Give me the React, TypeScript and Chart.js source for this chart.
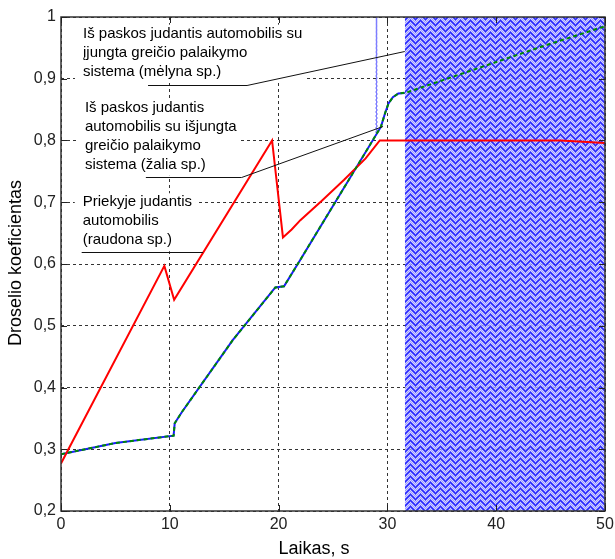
import React, { useEffect, useRef } from 'react';
import { Chart, registerables } from 'chart.js';
Chart.register(...registerables);

// ---- data (time in s, throttle coefficient) ----
const redTime = [0, 9.5, 10.4, 19.4, 20.4, 21.2, 22.0, 24.0, 26.0, 28.0, 29.3, 45.9, 50];
const redThrottle = [0.277, 0.597, 0.542, 0.8, 0.643, 0.656, 0.671, 0.703, 0.736, 0.771, 0.8, 0.8, 0.796];

const greenTime = [0, 5, 10.35, 10.45, 11.1, 15.8, 19.7, 20.5, 22.0, 29.4, 29.8, 30.1, 30.5, 31.0, 31.8, 44.0, 50];
const greenThrottle = [0.292, 0.31, 0.322, 0.342, 0.36, 0.477, 0.562, 0.564, 0.607, 0.822, 0.845, 0.86, 0.87, 0.876, 0.878, 0.951, 0.985];

const blueTime = [0, 5, 10.35, 10.45, 11.1, 15.8, 19.7, 20.5, 22.0, 29.4, 29.8, 30.1, 30.5, 31.0, 31.6];
const blueThrottle = [0.292, 0.31, 0.322, 0.342, 0.36, 0.477, 0.562, 0.564, 0.607, 0.822, 0.845, 0.86, 0.87, 0.876, 0.877];

const blueSpikeTime = [28.97, 29.0, 29.03];
const blueSpikeThrottle = [0.812, 1.0, 0.812];

const blueBandTime = [31.6, 50];
const blueBandTop = [1, 1];

const xTickLabels = ['0', '10', '20', '30', '40', '50'];
const yTickLabels = ['0,2', '0,3', '0,4', '0,5', '0,6', '0,7', '0,8', '0,9', '1'];
const xTitle = 'Laikas, s';
const yTitle = 'Droselio koeficientas';

const blueNoteLines = ['Iš paskos judantis automobilis su', 'įjungta greičio palaikymo', 'sistema (mėlyna sp.)'];
const greenNoteLines = ['Iš paskos judantis', 'automobilis su išjungta', 'greičio palaikymo', 'sistema (žalia sp.)'];
const redNoteLines = ['Priekyje judantis', 'automobilis', '(raudona sp.)'];

// ---- annotation placement (data coordinates) ----
const notes = [
  { lines: blueNoteLines, x: 2.02, y: 0.973, leader: [[8.0, 0.89], [17.1, 0.89], [31.6, 0.945]] },
  { lines: greenNoteLines, x: 2.2, y: 0.853, leader: [[7.8, 0.741], [16.6, 0.741], [29.6, 0.824]] },
  { lines: redNoteLines, x: 2.0, y: 0.7, leader: [[1.9, 0.619], [13.05, 0.619]] },
];

const FONT = '"Liberation Sans", Arial, Helvetica, sans-serif';

function makePattern(): CanvasPattern | string {
  const W = 10, H = 12;
  const c = document.createElement('canvas');
  c.width = W;
  c.height = H;
  const g = c.getContext('2d');
  if (!g) return 'rgba(100,100,250,0.85)';
  const img = g.createImageData(W, H);
  for (let r = 0; r < H; r++) {
    for (let col = 0; col < W; col++) {
      const k = (r + Math.abs(col - W / 2)) % 6;
      const checker = (r + col) % 2 === 0;
      const i = (r * W + col) * 4;
      let rgb: number[];
      let a: number;
      if (k < 3) { rgb = checker ? [25, 25, 255] : [80, 80, 255]; a = 240; }
      else { rgb = checker ? [200, 200, 255] : [140, 140, 255]; a = 215; }
      img.data[i] = rgb[0]; img.data[i + 1] = rgb[1]; img.data[i + 2] = rgb[2]; img.data[i + 3] = a;
    }
  }
  g.putImageData(img, 0, 0);
  const p = g.createPattern(c, 'repeat');
  return p || 'rgba(100,100,250,0.85)';
}

const pts = (xs: number[], ys: number[]) => xs.map((x, i) => ({ x, y: ys[i] }));

const decorPlugin = {
  id: 'decor',
  beforeDatasetsDraw(chart: any) {
    const { ctx, scales } = chart;
    const xs = scales.x, ys = scales.y;
    ctx.save();
    ctx.font = `15px ${FONT}`;
    notes.forEach((n) => {
      const x0 = xs.getPixelForValue(n.x);
      const y0 = ys.getPixelForValue(n.y);
      const w = Math.max(...n.lines.map((l) => ctx.measureText(l).width));
      const h = (n.lines.length - 1) * 19;
      ctx.fillStyle = '#ffffff';
      ctx.fillRect(x0 - 8, y0 - 9, w + 12, h + 20);
    });
    ctx.restore();
  },
  afterDatasetsDraw(chart: any) {
    const { ctx, scales, chartArea } = chart;
    const xs = scales.x, ys = scales.y;
    ctx.save();
    ctx.strokeStyle = '#333';
    ctx.lineWidth = 1.5;
    ctx.strokeRect(chartArea.left, chartArea.top, chartArea.right - chartArea.left, chartArea.bottom - chartArea.top);
    ctx.lineWidth = 1;
    ctx.strokeStyle = '#222';
    ctx.beginPath();
    xs.ticks.forEach((t: any) => {
      const px = Math.round(xs.getPixelForValue(t.value)) + 0.5;
      ctx.moveTo(px, chartArea.bottom); ctx.lineTo(px, chartArea.bottom - 6);
      ctx.moveTo(px, chartArea.top); ctx.lineTo(px, chartArea.top + 6);
    });
    ys.ticks.forEach((t: any) => {
      const py = Math.round(ys.getPixelForValue(t.value)) + 0.5;
      ctx.moveTo(chartArea.left, py); ctx.lineTo(chartArea.left + 6, py);
      ctx.moveTo(chartArea.right, py); ctx.lineTo(chartArea.right - 6, py);
    });
    ctx.stroke();
    ctx.font = `15px ${FONT}`;
    ctx.fillStyle = '#000';
    ctx.textBaseline = 'middle';
    ctx.textAlign = 'left';
    notes.forEach((n) => {
      const x0 = xs.getPixelForValue(n.x);
      const y0 = ys.getPixelForValue(n.y);
      n.lines.forEach((l, i) => ctx.fillText(l, x0, y0 + i * 19));
      ctx.beginPath();
      ctx.strokeStyle = '#111';
      ctx.lineWidth = 1;
      n.leader.forEach((p, i) => {
        const px = xs.getPixelForValue(p[0]);
        const py = Math.round(ys.getPixelForValue(p[1])) + 0.5;
        if (i === 0) ctx.moveTo(px, py); else ctx.lineTo(px, py);
      });
      ctx.stroke();
    });
    ctx.restore();
  },
  afterDraw(chart: any) {
    const { ctx, chartArea } = chart;
    ctx.save();
    ctx.fillStyle = '#000';
    ctx.font = `18px ${FONT}`;
    ctx.textAlign = 'center';
    ctx.textBaseline = 'middle';
    ctx.fillText(xTitle, 314, 549);
    ctx.translate(16, (chartArea.top + chartArea.bottom) / 2 - 1);
    ctx.rotate(-Math.PI / 2);
    ctx.fillText(yTitle, 0, 0);
    ctx.restore();
  },
};

export default function App() {
  const ref = useRef<HTMLCanvasElement | null>(null);
  useEffect(() => {
    if (!ref.current) return;
    const pattern = makePattern();
    const chart = new Chart(ref.current, {
      type: 'line',
      data: {
        datasets: [
          {
            label: 'green',
            data: pts(greenTime, greenThrottle),
            borderColor: '#008a00',
            borderWidth: 2,
            borderDash: [4, 3],
            pointRadius: 0,
            fill: false,
            order: 1,
          },
          {
            label: 'red',
            data: pts(redTime, redThrottle),
            borderColor: '#ff0000',
            borderWidth: 2,
            pointRadius: 0,
            fill: false,
            order: 2,
          },
          {
            label: 'blue',
            data: pts(blueTime, blueThrottle),
            borderColor: '#1a1aff',
            borderWidth: 2,
            pointRadius: 0,
            fill: false,
            order: 3,
          },
          {
            label: 'blue spike',
            data: pts(blueSpikeTime, blueSpikeThrottle),
            borderColor: 'rgba(70,70,255,0.7)',
            borderWidth: 1.5,
            borderDash: [2, 2],
            pointRadius: 0,
            fill: false,
            order: 3,
          },
          {
            label: 'blue band',
            data: pts(blueBandTime, blueBandTop),
            borderColor: 'rgba(0,0,0,0)',
            borderWidth: 0,
            backgroundColor: pattern as any,
            pointRadius: 0,
            fill: 'start',
            order: 4,
          },
        ],
      },
      options: {
        responsive: false,
        animation: false,
        events: [],
        layout: { padding: { top: 17, right: 10, left: 0, bottom: 0 } },
        plugins: { legend: { display: false }, tooltip: { enabled: false } },
        scales: {
          x: {
            type: 'linear',
            min: 0,
            max: 50,
            afterFit: (s: any) => { s.height = 48; s.paddingLeft = 0; s.paddingRight = 0; },
            ticks: {
              stepSize: 10,
              padding: 4,
              color: '#222',
              font: { family: FONT, size: 16 },
              callback: (_v: any, i: number) => xTickLabels[i],
              maxRotation: 0,
            },
            grid: { color: '#333', lineWidth: 1, drawTicks: false },
            border: { display: false, dash: [3, 3] },
          },
          y: {
            type: 'linear',
            min: 0.2,
            max: 1,
            afterFit: (s: any) => { s.width = 61; s.paddingTop = 0; s.paddingBottom = 0; },
            ticks: {
              stepSize: 0.1,
              padding: 5,
              color: '#222',
              font: { family: FONT, size: 16 },
              callback: (_v: any, i: number) => yTickLabels[i],
            },
            grid: { color: '#333', lineWidth: 1, drawTicks: false },
            border: { display: false, dash: [3, 3] },
          },
        },
      },
      plugins: [decorPlugin],
    });
    return () => chart.destroy();
  }, []);
  return (
    <div style={{ position: 'absolute', left: 0, top: 0, width: 615, height: 559, background: '#fff' }}>
      <canvas ref={ref} width={615} height={559} style={{ display: 'block' }} />
    </div>
  );
}
